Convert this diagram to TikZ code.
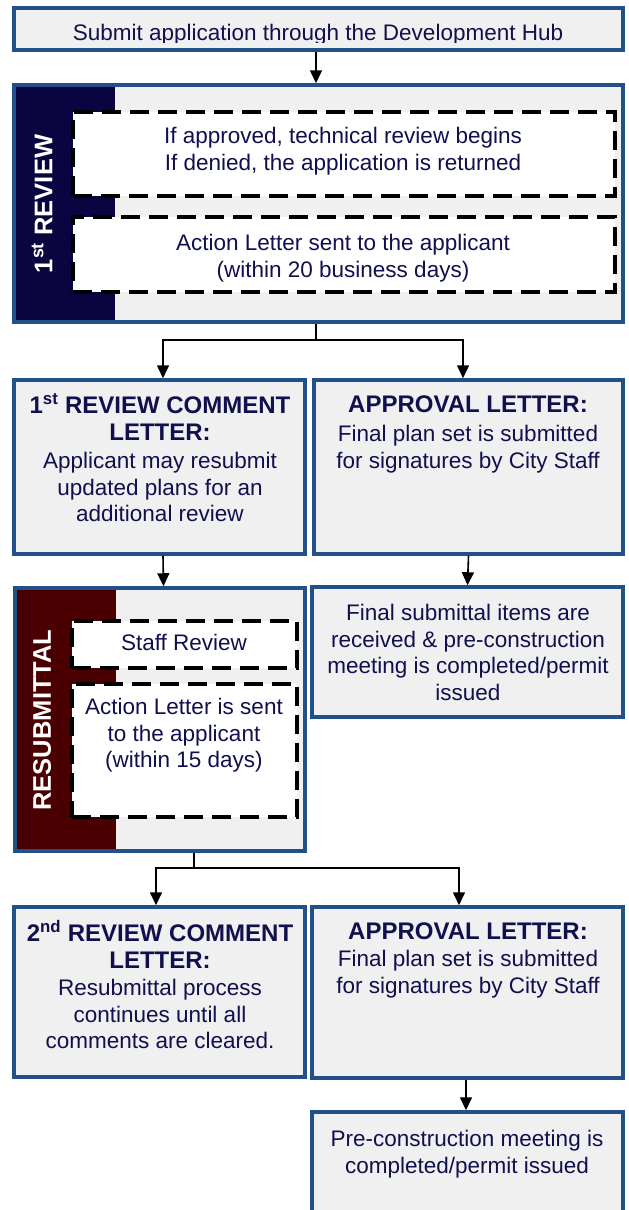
\documentclass[tikz,border=0pt]{standalone}
\usepackage{fontspec}
\setmainfont{Liberation Sans}
\usetikzlibrary{arrows.meta,calc}
\definecolor{bord}{HTML}{24508A}
\definecolor{boxfill}{HTML}{F0F0F0}
\definecolor{navyband}{HTML}{0A0540}
\definecolor{redband}{HTML}{4A0000}
\definecolor{ink}{HTML}{10104E}
\newcommand\fBody{\fontsize{22.5}{26.5}\selectfont}
\newcommand\fHead{\bfseries\fontsize{24}{27.5}\selectfont}
\newcommand\fSide{\bfseries\fontsize{25.5}{30}\selectfont}
\begin{document}
\begin{tikzpicture}[x=1pt,y=-1pt,
 box/.style={draw=bord, line width=3.5pt, fill=boxfill, inner sep=0pt},
 dbox/.style={draw=black, line width=3.5pt, fill=white, dash pattern=on 19pt off 9pt, inner sep=0pt},
 body/.style={text=ink, font=\fBody, align=center, inner sep=0pt, anchor=north},
 head/.style={text=ink, font=\fHead, align=center, inner sep=0pt, anchor=north},
 side/.style={text=white, font=\fSide, rotate=90, inner sep=0pt},
 band/.style={path picture={\fill[#1] (path picture bounding box.north west) rectangle ([xshift=101pt]path picture bounding box.south west);}},
 arr/.style={-{Triangle[length=13pt,width=12pt]}, line width=1.6pt, black},
 conn/.style={line width=1.6pt, black}]
\useasboundingbox (0,0) rectangle (629,1210);

% submit
\node[box, minimum width=609pt, minimum height=42pt] (submit) at (318.5,29) {};
\begin{scope}
\clip (14,8) rectangle (623,42.5);
\node[body, anchor=base] (submittext) at (318,40) {Submit application through the Development Hub};
\end{scope}

% first review
\node[box, band=navyband, minimum width=609pt, minimum height=237pt] (rev1) at (318.5,203.5) {};
\node[side] (rev1label) at (42,204) {1\textsuperscript{st} REVIEW};
\node[dbox, minimum width=542pt, minimum height=84pt] (d1) at (344,154) {};
\node[body] (d1text) at (343,127) {If approved, technical review begins\\If denied, the application is returned};
\node[dbox, minimum width=542pt, minimum height=75pt] (d2) at (344,254.5) {};
\node[body] (d2text) at (343,234) {Action Letter sent to the applicant\\(within 20 business days)};

% row 2
\node[box, minimum width=291pt, minimum height=174pt] (c1) at (159.5,467) {};
\node[head] (c1head) at (160,393) {1\textsuperscript{st} REVIEW COMMENT\\LETTER:};
\node[body] (c1body) at (160,452) {Applicant may resubmit\\updated plans for an\\additional review};
\node[box, minimum width=309pt, minimum height=174pt] (a1) at (468.5,467) {};
\node[head] (a1head) at (468,396) {APPROVAL LETTER:};
\node[body] (a1body) at (468,425) {Final plan set is submitted\\for signatures by City Staff};

% resubmittal
\node[box, band=redband, minimum width=290pt, minimum height=263pt] (resub) at (160,719.5) {};
\node[side] (resublabel) at (42,720) {RESUBMITTAL};
\node[dbox, minimum width=225pt, minimum height=47pt] (staff) at (184.5,644.5) {};
\node[body] (stafftext) at (184,634) {Staff Review};
\node[dbox, minimum width=225pt, minimum height=133pt] (act) at (184.5,750.5) {};
\node[body] (acttext) at (184,698) {Action Letter is sent\\to the applicant\\(within 15 days)};

\node[box, minimum width=311pt, minimum height=130pt] (fs) at (467.5,652) {};
\node[body] (fstext) at (468,604) {Final submittal items are\\received \& pre-construction\\meeting is completed/permit\\issued};

% row 4
\node[box, minimum width=291pt, minimum height=170pt] (c2) at (159.5,992) {};
\node[head] (c2head) at (160,920) {2\textsuperscript{nd} REVIEW COMMENT\\LETTER:};
\node[body] (c2body) at (160,979) {Resubmittal process\\continues until all\\comments are cleared.};
\node[box, minimum width=311pt, minimum height=171pt] (a2) at (467.5,992.5) {};
\node[head] (a2head) at (468,923) {APPROVAL LETTER:};
\node[body] (a2body) at (468,950) {Final plan set is submitted\\for signatures by City Staff};

\node[box, minimum width=311pt, minimum height=113pt] (pc) at (467.5,1168.5) {};
\node[body] (pctext) at (467,1130) {Pre-construction meeting is\\completed/permit issued};

% connectors
\draw[arr] ([xshift=-2.5pt]submit.south) -- ([xshift=-2.5pt]rev1.north);
\coordinate (j1) at (316,340);
\draw[conn] ([xshift=-2.5pt]rev1.south) -- (j1);
\draw[arr] (j1) -| ([xshift=3.5pt]c1.north);
\draw[arr] (j1) -| ([xshift=-5.5pt]a1.north);
\draw[arr] ([xshift=3.5pt]c1.south) -- ([xshift=3.5pt]resub.north);
\draw[arr] (a1.south) -- (fs.north);
\coordinate (j2) at (194,868);
\draw[conn] (resub.south -| j2) -- (j2);
\draw[arr] (j2) -| ([xshift=-3.5pt]c2.north);
\draw[arr] (j2) -| ([xshift=-8.5pt]a2.north);
\draw[arr] ([xshift=-1.5pt]a2.south) -- ([xshift=-1.5pt]pc.north);
\end{tikzpicture}
\end{document}
